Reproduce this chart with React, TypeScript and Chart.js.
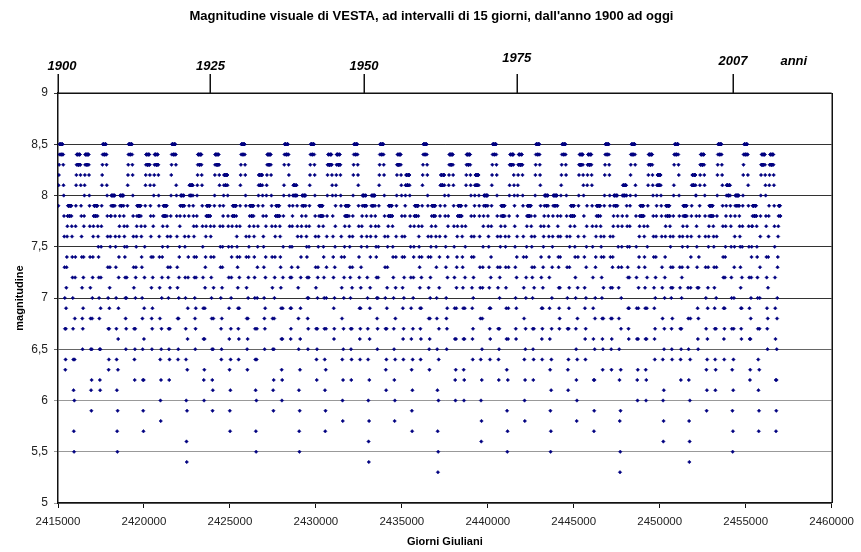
import React, { useEffect, useRef } from "react";
import { Chart, registerables } from "chart.js";

Chart.register(...registerables);

// Sampling: one point every 15 days, starting at JD 2415020 (1 Jan 1900)
const START_JD = 2415020;
const STEP_DAYS = 15;

// Each character is one magnitude value: index in MAG_CODE / 10 + 5  ("0" = 5.0 ... "z" = 8.5)
const MAG_CODE = "0123456789abcdefghijklmnopqrstuvwxyz";

// Magnitudes, grouped by synodic cycle (conjunction -> opposition -> conjunction)
const magnitudeCycles: string[] = [
  "tvwxyzzzzzy",
  "yyzzzzyyxvusqnkhdehjlnoqrssttttts",
  "sstttttsrqomkheb75aeimortvwxyyyyxx",
  "xxyyyyxxwvtsqolifhjmorsuvwxyyyyyxx",
  "xyyyyyxwutrolifb9cfikmoqrssttttss",
  "sstttttsrqpomkifcbfjmprtvwxyzzzzyy",
  "yyzzzzyyxvusqnkhdehjlnpqsstuuuuut",
  "ttuuuuutsqpnkheb759dgjmoqrstuuuutt",
  "tuuuuuutsrqpomkifhkmprtvwxyzzzzzyy",
  "yzzzzzyxwusqnlhecfhkmnpqrstttttss",
  "sstttttsrqonkifc97cgjmprtvwxyyyyxx",
  "xxyyyyxxwvtsqolifhjmorsuvwxyyyyyx",
  "xxxyyyxxwutqoliea8cfhkmoprssttttss",
  "sstttttsrqpnmkhfcehlnqsuwxyzzzzzyy",
  "yyzzzzyyxvusqnliefikmoprsttuuuuut",
  "tttuuuttsqpmkhea649dgjmoqstuvvvvuu",
  "uvvvvvvutsrqomkifhjmorsuvwxyyyyyxx",
  "xyyyyyxwvtrpmjgcadgjlnoqrssttttss",
  "ssttttssrqomkifc9bfilortuwxyyyyyxx",
  "xxyyyyxxwvtrpnkhefilnprstuvwwwwwv",
  "vvwwwwwvusrpmjgd97behkmoprssttttss",
  "sttttttsrqponljhegjmortvwxyzzzzzyy",
  "yzzzzzyxwutqolifdgikmopqrstttttts",
  "sstttttsrqomkheb75aehknprtuvwwwwvv",
  "vvwwwwwvutsqpnkifhjmorsuvwxyyyyyx",
  "xxyyyyyxwutrolifb9cfikmoqrssttttss",
  "ssttttssrqonljgdacgjmpsuvxyzzzzzyy",
  "yyzzzzyyxwutrpmjghjmnprstuuvvvvvu",
  "uuuvvvuutrqnlifb759dgjmoqrstuuuutt",
  "tuuuuuutsrqpomkifhkmprtvwxyzzzzzyy",
  "yzzzzzyxwusqnlhecfhkmnpqrstttttss",
  "ssttttssrpomkheb79dhknqsuwxxyyyxxx",
  "xxyyyyxxwvusqomjghknprtuvwxyyyyyx",
  "xxxyyyxxwutqoliea8cfhkmoprssttttss",
  "sstttttsrqpnmkhfcehlnqsuwxyzzzzzyy",
  "yzzzzzyxwvtromjgehjlnpqrstuuuuuut",
  "tttuuuttsqpmkhea648cgjloqrstuuuutt",
  "tuuuuuutsrqpomkifhkmprtvwxyzzzzzy",
  "yyzzzzzyxwusqnkhdbehjlnpqrssttttss",
  "ssttttssrpomkhfc8aeiloqtuwxxyyyxxx",
  "xyyyyyxwvusqoljgehkmoqstuvvwwwwvv",
  "vvwwwwwvusrpmjgd97behkmoprssttttss",
  "sttttttsrqponljhegjmortvwxyzzzzzy",
  "yyzzzzzyxwutqolifdgikmopqrstttttts",
  "ssttttsrqpnkifb735aehloqstvvwwwvvv",
  "vvwwwwwvutsqpnkifhjmorsuvwxyyyyyx",
  "xxyyyyyxwvtrpmjgcadgjlnoqrssttttss",
  "ssttttssrqonljgdacgjmprtvwxyyyyyxx",
  "xyyyyyxwvusqoljgehkmoqstuvvwwwwvv",
  "vvwwwwvutsqnliea68cfilnprstuuuuutt",
  "tuuuuuutsrqpnljhegjmortvwxyzzzzzy",
  "yyzzzzzyxwusqnlhecfhkmnpqrstttttss",
  "ssttttsrqpnljgd957cgjnqsuvxxyyyxxx",
  "xyyyyyxwvutrpnkhgjmoqsuvwxxyyyyxx",
  "xxxyyyxxwutqoliea8cfhkmoprssttttss",
  "sstttttsrqpnmkhfcehlnqsuwxyzzzzzy",
  "yyzzzzzyxwvtromjgehjlnpqrstuuuuuut",
  "ttuuuutsrqomjgd957behknpqstuuuuutt",
  "tuuuuuuttsrqonljhiloqsuvwxyzzzzzy",
  "yyzzzzzyxwusqnkhdbehjlnpqrssttttss",
  "ssttttssrpomkhfc8aeiloqtuwxxyyyxxx",
  "xyyyyyxwvusqoljgehknprtvwxxyyyyxx",
  "xxyyyyxwvtrpmjgc79cfiknoqrstttttss",
  "sttttttsrqpomkigdfiloqtuwxyzzzzzy",
  "yyzzzzzyxwutqolifdgilnoqrstuuuuutt",
  "ttuuuutsrpnlifc8359dhknprsuuvvvuuu",
  "uvvvvvuutsrpnmjhgjmprtuwxyyzzzzyy",
  "yyzzzzzyxvuspmjgcadgjlnoqrssttttss",
  "ssttttssrqonljgdacgjmprtvwxyyyyyx",
  "xxyyyyyxwvusqoljgehkmoqstuvvwwwwvv",
  "vvwwwwvutsqnliea68bfhkmoqrstttttss",
  "stttttssrqpnlkhfeilnqsuvxyyzzzzyy",
  "yyzzzzzyxwusqnlhecfhkmnpqrstttttss",
  "ssttttsrqpnlifc846aeiloqstvvwwwvv",
  "vvwwwwwvuusrpnljgfiloqstvwxxyyyyxx",
  "xxyyyyxwvusqnkhd9begjlnpqrstttttss",
  "ssttttssrqpnljhebdhknqsuwxyzzzzzy",
  "yyzzzzzyxwvtromjgehjmoprstuvvvvvuu",
  "uuvvvvutsrpmkhd957behknpqstuuuuutt",
  "uuuuuuttsrqpnljhgjmprtuwxyyzzzzyy",
  "yyzzzzyywvtrpmjgcdgikmoprrstttttss",
  "ssttttssrpomkheb79dhknqsuwxxyyyxx",
  "xxyyyyyxwvusromjhfiloqstvwxxyyyyxx",
  "xxyyyyxwvtrpmjgc79cfiknoqrstttttss",
];

// Axes
const X_MIN = 2415000;
const X_MAX = 2460000;
const X_STEP = 5000;
const Y_MIN = 5;
const Y_MAX = 9;
const Y_STEP = 0.5;

// Secondary (year) axis drawn above the plot
const yearTickJD = [2415000, 2423870, 2432800, 2441680, 2454260];
const yearLabels = ["1900", "1925", "1950", "1975", "2007", "anni"];
const yearLabelJD = [2415230, 2423870, 2432800, 2441680, 2454260, 2457800];

const TITLE = "Magnitudine visuale di VESTA, ad intervalli di 15 giorni, dall'anno 1900 ad oggi";
const X_TITLE = "Giorni Giuliani";
const Y_TITLE = "magnitudine";

// styles (kept apart from the data)
const FONT = "'Liberation Sans', Arial, sans-serif";
const yearLabelTop = [66, 66, 66, 58, 61, 61];

function buildPoints() {
  const pts: { x: number; y: number }[] = [];
  let i = 0;
  for (const cycle of magnitudeCycles) {
    for (const ch of cycle) {
      const idx = MAG_CODE.indexOf(ch);
      pts.push({ x: START_JD + STEP_DAYS * i, y: 5 + idx / 10 });
      i++;
    }
  }
  return pts;
}

const overlayPlugin = {
  id: "vestaOverlay",
  afterDraw(chart: any) {
    const { ctx, chartArea, scales } = chart;
    const xs = scales.x;
    ctx.save();
    ctx.strokeStyle = "#111";
    ctx.lineWidth = 1.5;
    // right frame
    ctx.beginPath();
    ctx.moveTo(Math.round(chartArea.right) + 0.25, chartArea.top);
    ctx.lineTo(Math.round(chartArea.right) + 0.25, chartArea.bottom);
    ctx.stroke();
    // top frame
    ctx.beginPath();
    ctx.moveTo(chartArea.left, Math.round(chartArea.top) + 0.25);
    ctx.lineTo(chartArea.right, Math.round(chartArea.top) + 0.25);
    ctx.stroke();
    // year ticks
    for (const jd of yearTickJD) {
      const px = Math.round(xs.getPixelForValue(jd)) + 0.25;
      ctx.beginPath();
      ctx.moveTo(px, chartArea.top);
      ctx.lineTo(px, chartArea.top - 19);
      ctx.stroke();
    }
    // year labels
    ctx.fillStyle = "#000";
    ctx.font = `italic bold 13px ${FONT}`;
    ctx.textAlign = "center";
    ctx.textBaseline = "middle";
    yearLabels.forEach((lab, k) => {
      ctx.fillText(lab, xs.getPixelForValue(yearLabelJD[k]), yearLabelTop[k]);
    });
    // title
    ctx.font = `bold 13px ${FONT}`;
    ctx.fillText(TITLE, chart.width / 2 + 1, 16);
    ctx.restore();
  },
};

export default function App() {
  const ref = useRef<HTMLCanvasElement | null>(null);
  useEffect(() => {
    document.body.style.margin = "0";
    const canvas = ref.current;
    if (!canvas) return;
    const chart = new Chart(canvas, {
      type: "scatter",
      data: {
        datasets: [
          {
            data: buildPoints(),
            pointStyle: "rectRot",
            pointRadius: 1.75,
            pointBorderWidth: 0.5,
            backgroundColor: "#000080",
            borderColor: "#000080",
            showLine: false,
          } as any,
        ],
      },
      options: {
        animation: false,
        responsive: false,
        devicePixelRatio: 1,
        parsing: false,
        normalized: true,
        layout: { padding: { top: 93, right: 27, left: 0, bottom: 0 } },
        plugins: {
          legend: { display: false },
          tooltip: { enabled: false },
          title: { display: false },
        },
        scales: {
          x: {
            type: "linear",
            min: X_MIN,
            max: X_MAX,
            afterFit: (s: any) => {
              s.height = 49;
            },
            ticks: {
              stepSize: X_STEP,
              autoSkip: false,
              maxRotation: 0,
              padding: 7,
              color: "#222",
              font: { family: FONT, size: 11.5 },
              callback: (v: any) => String(v),
            },
            grid: { drawOnChartArea: false, drawTicks: true, tickLength: 5, color: "#111", lineWidth: 1 },
            border: { display: true, color: "#111", width: 1.5 },
            title: {
              display: true,
              text: X_TITLE,
              color: "#000",
              font: { family: FONT, size: 11, weight: "bold" },
              padding: { top: 0, bottom: 3 },
            },
          },
          y: {
            type: "linear",
            min: Y_MIN,
            max: Y_MAX,
            afterFit: (s: any) => {
              s.width = 58;
            },
            ticks: {
              stepSize: Y_STEP,
              padding: 6,
              color: "#222",
              font: { family: FONT, size: 12 },
              callback: (v: any) => String(v).replace(".", ","),
            },
            grid: {
              drawTicks: true,
              tickLength: 4,
              lineWidth: 1,
              color: (c: any) => {
                const v = c.tick ? c.tick.value : 0;
                if (v >= 7) return "#333";
                if (v >= 6.5) return "#666";
                return "#999";
              },
            },
            border: { display: true, color: "#111", width: 1.5 },
            title: {
              display: true,
              text: Y_TITLE,
              color: "#000",
              font: { family: FONT, size: 11, weight: "bold" },
              padding: { top: 13, bottom: 0 },
            },
          },
        },
      } as any,
      plugins: [overlayPlugin],
    });
    return () => chart.destroy();
  }, []);
  return (
    <div style={{ width: 861, height: 552 }}>
      <canvas ref={ref} width={861} height={552} style={{ display: "block" }} />
    </div>
  );
}
